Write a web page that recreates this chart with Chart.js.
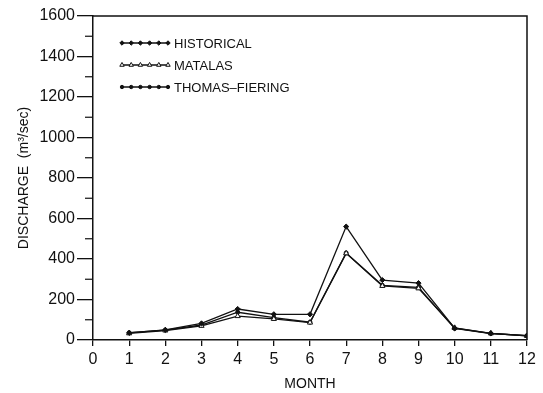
<!DOCTYPE html>
<html>
<head>
<meta charset="utf-8">
<script src="https://cdn.jsdelivr.net/npm/chart.js@4/dist/chart.umd.min.js"></script>
<style>
  html, body { margin: 0; padding: 0; background: #fff; }
  #wrap { width: 543px; height: 393px; }
</style>
</head>
<body>
<div id="wrap"><canvas id="flowChart" width="543" height="393"></canvas></div>
<script>
// monthly discharge, m3/sec
const months = [1, 2, 3, 4, 5, 6, 7, 8, 9, 10, 11, 12];
const historical = [35, 50, 82, 153, 127, 127, 560, 296, 281, 58, 33, 21];
const matalas = [33, 47, 70, 118, 104, 86, 428, 267, 255, 60, 33, 20];
const thomasFiering = [36, 49, 74, 137, 110, 88, 430, 270, 260, 57, 32, 22];
const seriesNames = ['HISTORICAL', 'MATALAS', 'THOMAS\u2013FIERING'];

const ink = '#111';
const FONT = "'Liberation Sans', Arial, sans-serif";

const toXY = vals => months.map((m, i) => ({ x: m, y: vals[i] }));

const styles = [
    { pointStyle: 'rectRot', radius: 2.6, fill: true },
    { pointStyle: 'triangle', radius: 3, fill: false },
    { pointStyle: 'circle', radius: 2, fill: true }
];

function makeSet(label, vals, s) {
    return {
        label: label,
        data: toXY(vals),
        borderColor: ink,
        borderWidth: 1.3,
        pointStyle: s.pointStyle,
        pointRadius: s.radius,
        pointBorderWidth: 1,
        pointBorderColor: ink,
        pointBackgroundColor: s.fill ? ink : '#fff',
        tension: 0,
        fill: false
    };
}

// frame, minor ticks on y, legend inside plot
const extras = {
    id: 'extras',
    afterDraw(chart) {
        const ctx = chart.ctx;
        const a = chart.chartArea;
        const y = chart.scales.y;
        ctx.save();
        ctx.strokeStyle = ink;
        ctx.lineWidth = 1.5;
        ctx.beginPath();
        ctx.moveTo(a.left, a.top);
        ctx.lineTo(a.right, a.top);
        ctx.lineTo(a.right, a.bottom);
        ctx.stroke();

        ctx.lineWidth = 1.2;
        for (let v = 100; v < 1600; v += 200) {
            const py = y.getPixelForValue(v);
            ctx.beginPath();
            ctx.moveTo(a.left - 8, py);
            ctx.lineTo(a.left, py);
            ctx.stroke();
        }

        // legend
        ctx.font = '13px ' + FONT;
        ctx.fillStyle = ink;
        ctx.textBaseline = 'middle';
        chart.data.datasets.forEach((ds, i) => {
            const ly = 43 + i * 22;
            const x0 = 122, x1 = 168;
            ctx.lineWidth = 1.3;
            ctx.beginPath();
            ctx.moveTo(x0, ly);
            ctx.lineTo(x1, ly);
            ctx.stroke();
            for (let k = 0; k < 6; k++) {
                const px = x0 + (x1 - x0) * k / 5;
                ctx.fillStyle = ds.pointBackgroundColor;
                ctx.strokeStyle = ink;
                ctx.lineWidth = 1;
                Chart.helpers.drawPoint(ctx, {
                    pointStyle: ds.pointStyle,
                    radius: ds.pointRadius * 0.85,
                    rotation: 0,
                    borderWidth: 1
                }, px, ly);
            }
            ctx.fillStyle = ink;
            ctx.fillText(ds.label, 174, ly + 1);
        });
        ctx.restore();
    }
};

new Chart(document.getElementById('flowChart'), {
    type: 'line',
    data: {
        datasets: [
            makeSet(seriesNames[0], historical, styles[0]),
            makeSet(seriesNames[1], matalas, styles[1]),
            makeSet(seriesNames[2], thomasFiering, styles[2])
        ]
    },
    options: {
        responsive: false,
        animation: false,
        devicePixelRatio: 1,
        layout: { padding: { top: 16, right: 16, left: 0, bottom: 0 } },
        plugins: { legend: { display: false }, tooltip: { enabled: false } },
        scales: {
            x: {
                type: 'linear',
                min: 0,
                max: 12,
                afterFit: s => { s.height = 53; },
                ticks: { stepSize: 1, color: ink, font: { family: FONT, size: 16 }, padding: 4, maxRotation: 0,
                    callback: v => String(v) },
                grid: { drawOnChartArea: false, tickLength: 6, color: ink, lineWidth: 1.3 },
                border: { color: ink, width: 1.5 },
                title: { display: true, text: 'MONTH', color: ink, font: { family: FONT, size: 14 }, padding: { top: 7, bottom: 0 } }
            },
            y: {
                min: 0,
                max: 1600,
                afterFit: s => { s.width = 93; },
                ticks: { stepSize: 200, color: ink, font: { family: FONT, size: 16 }, padding: 2,
                    callback: v => String(v) },
                grid: { drawOnChartArea: false, tickLength: 16, color: ink, lineWidth: 1.3 },
                border: { color: ink, width: 1.5 },
                title: { display: true, text: 'DISCHARGE  (m\u00b3/sec)', color: ink, font: { family: FONT, size: 14 }, padding: { top: 16, bottom: 0 } }
            }
        }
    },
    plugins: [extras]
});
</script>
</body>
</html>
